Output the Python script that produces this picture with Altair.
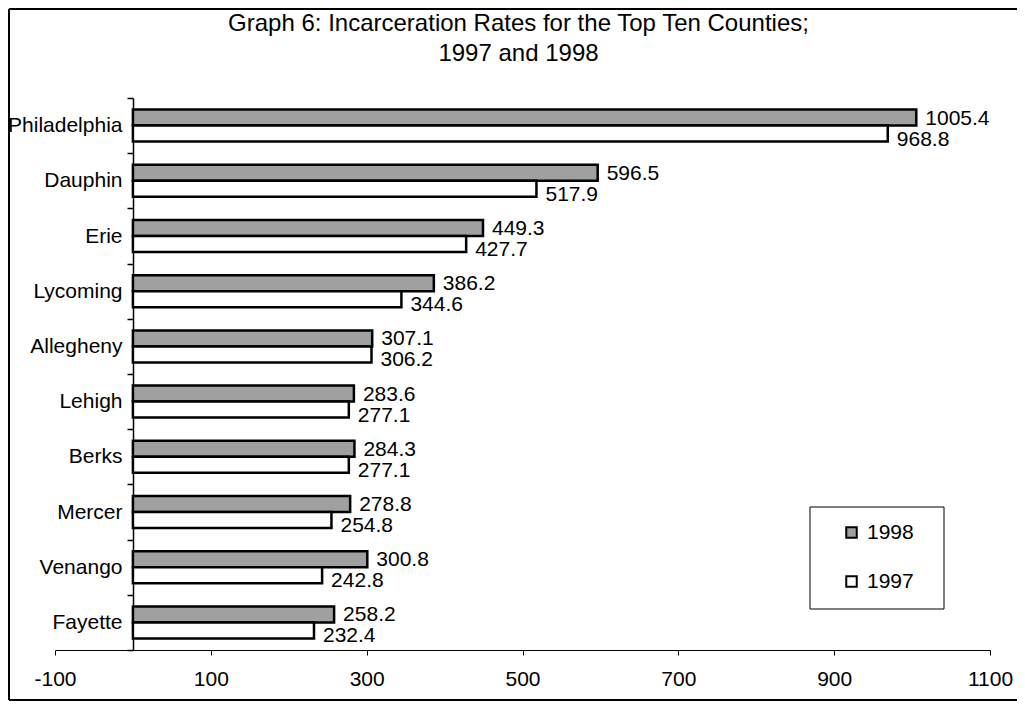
import altair as alt
import pandas as pd

counties = ["Philadelphia", "Dauphin", "Erie", "Lycoming", "Allegheny",
            "Lehigh", "Berks", "Mercer", "Venango", "Fayette"]
rates_1998 = [1005.4, 596.5, 449.3, 386.2, 307.1, 283.6, 284.3, 278.8, 300.8, 258.2]
rates_1997 = [968.8, 517.9, 427.7, 344.6, 306.2, 277.1, 277.1, 254.8, 242.8, 232.4]
years = ["1998", "1997"]
x_ticks = [-100, 100, 300, 500, 700, 900, 1100]

rows = []
for c, a, b in zip(counties, rates_1998, rates_1997):
    rows.append({"county": c, "year": "1998", "rate": a})
    rows.append({"county": c, "year": "1997", "rate": b})
df = pd.DataFrame(rows)

FONT = "Liberation Sans"
FS = 21

y_enc = alt.Y("county:N", sort=counties,
              scale=alt.Scale(paddingInner=0, paddingOuter=0),
              axis=alt.Axis(title=None, offset=-78, tickBand="extent",
                            tickSize=6, labelPadding=5, labelFontSize=FS,
                            labelFont=FONT, labelColor="black",
                            domainColor="black", domainWidth=1.5,
                            tickColor="black", tickWidth=1.5, grid=False))
yoff = alt.YOffset("year:N", sort=years, scale=alt.Scale(paddingInner=0, paddingOuter=0.725))
x_enc = alt.X("rate:Q", scale=alt.Scale(domain=[-100, 1100], nice=False, zero=False),
              axis=alt.Axis(title=None, values=x_ticks, tickSize=5, labelPadding=13,
                            labelFontSize=FS, labelFont=FONT, labelColor="black",
                            domainColor="black", tickColor="black", grid=False,
                            labelFlush=False, labelOverlap=False,
                            labelExpr="datum.value + ''"))

bars = alt.Chart(df).mark_bar(stroke="black", strokeWidth=2.5).encode(
    y=y_enc,
    yOffset=yoff,
    x=x_enc,
    x2=alt.datum(0),
    fill=alt.Fill("year:N", sort=years,
                  scale=alt.Scale(domain=years, range=["#a0a0a0", "white"]),
                  legend=alt.Legend(title=None, orient="none", legendX=755, legendY=408,
                                    direction="vertical", symbolType="square",
                                    symbolStrokeColor="black", symbolStrokeWidth=2,
                                    symbolSize=110, labelFontSize=FS, labelFont=FONT,
                                    labelColor="black", rowPadding=27, padding=16,
                                    symbolOffset=15, labelOffset=5,
                                    strokeColor="transparent")),
)

lab98 = alt.Chart(df).transform_filter(alt.datum.year == "1998").mark_text(
    align="left", baseline="middle", dx=9, dy=1, fontSize=FS, font=FONT, color="black"
).encode(y=alt.Y("county:N", sort=counties), yOffset=alt.YOffset("year:N", sort=years),
         x="rate:Q", text=alt.Text("rate:Q", format=".1f"))

lab97 = alt.Chart(df).transform_filter(alt.datum.year == "1997").mark_text(
    align="left", baseline="middle", dx=9, dy=6, fontSize=FS, font=FONT, color="black"
).encode(y=alt.Y("county:N", sort=counties), yOffset=alt.YOffset("year:N", sort=years),
         x="rate:Q", text=alt.Text("rate:Q", format=".1f"))

one = alt.Data(values=[{"k": 1}])
legend_box = alt.Chart(one).mark_rect(fill="white", fillOpacity=0, stroke="black",
                                      strokeWidth=1).encode(
    x=alt.value(755), x2=alt.value(889), y=alt.value(409), y2=alt.value(511))
frame_left = alt.Chart(one).mark_rule(color="black", strokeWidth=2).encode(
    x=alt.value(-46), y=alt.value(-89), y2=alt.value(602))
frame_top = alt.Chart(one).mark_rule(color="black", strokeWidth=2).encode(
    y=alt.value(-89), x=alt.value(-46), x2=alt.value(980))
frame_bottom = alt.Chart(one).mark_rule(color="black", strokeWidth=2).encode(
    y=alt.value(602), x=alt.value(-46), x2=alt.value(980))

chart = alt.layer(legend_box, bars, lab98, lab97, frame_left, frame_top, frame_bottom).properties(
    width=935, height=552,
    autosize=alt.AutoSizeParams(type="none"),
    padding={"left": 47, "top": 90, "right": 27, "bottom": 52},
    title=alt.TitleParams(
        text=["Graph 6: Incarceration Rates for the Top Ten Counties;", "1997 and 1998"],
        fontSize=24, font=FONT, fontWeight="normal", color="black",
        lineHeight=30, anchor="middle", frame="group", dx=-4, offset=-58),
).configure(background="white", view=alt.ViewConfig(stroke="transparent", strokeWidth=0))

chart.save("out.html", embed_options={"renderer": "svg", "actions": False})
